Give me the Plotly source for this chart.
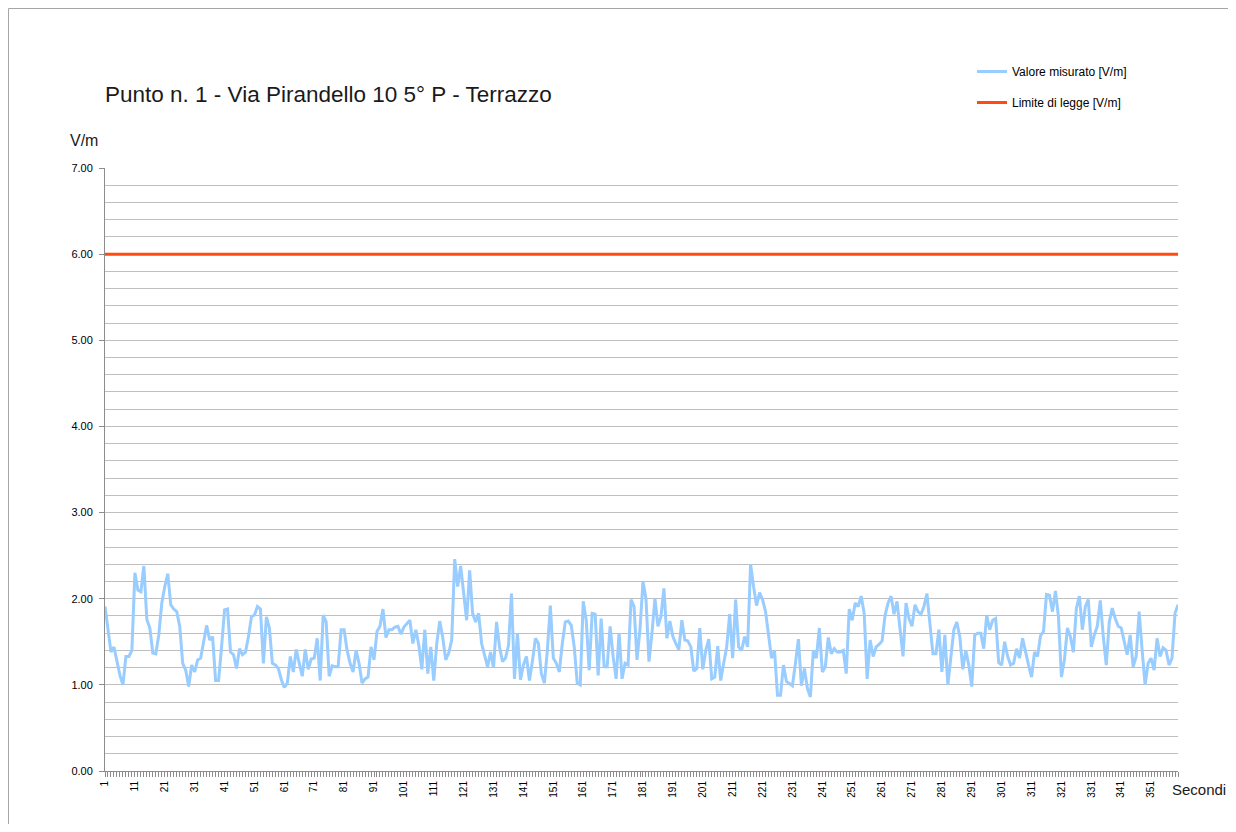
import plotly.graph_objects as go

seconds = list(range(1, 361))

measured = [
    1.91, 1.62, 1.38, 1.44, 1.29, 1.11, 1.00, 1.33, 1.33, 1.40,
    2.30, 2.10, 2.08, 2.38, 1.76, 1.66, 1.37, 1.36, 1.58, 1.95,
    2.14, 2.29, 1.93, 1.88, 1.85, 1.68, 1.25, 1.17, 0.98, 1.23,
    1.15, 1.29, 1.31, 1.50, 1.69, 1.52, 1.56, 1.05, 1.05, 1.44,
    1.87, 1.88, 1.38, 1.35, 1.19, 1.42, 1.35, 1.38, 1.56, 1.79,
    1.81, 1.91, 1.88, 1.25, 1.79, 1.66, 1.25, 1.23, 1.19, 1.06,
    0.97, 1.02, 1.33, 1.15, 1.41, 1.25, 1.10, 1.41, 1.18, 1.30,
    1.31, 1.54, 1.05, 1.81, 1.73, 1.10, 1.22, 1.21, 1.21, 1.64,
    1.64, 1.40, 1.25, 1.15, 1.40, 1.25, 1.02, 1.07, 1.09, 1.44,
    1.29, 1.62, 1.68, 1.88, 1.55, 1.64, 1.64, 1.67, 1.68, 1.59,
    1.67, 1.71, 1.75, 1.48, 1.64, 1.46, 1.18, 1.64, 1.13, 1.44,
    1.05, 1.48, 1.74, 1.55, 1.29, 1.37, 1.52, 2.46, 2.14, 2.38,
    2.06, 1.75, 2.33, 1.83, 1.73, 1.83, 1.48, 1.33, 1.21, 1.38,
    1.20, 1.73, 1.44, 1.27, 1.31, 1.46, 2.06, 1.07, 1.60, 1.06,
    1.23, 1.33, 1.05, 1.27, 1.54, 1.48, 1.13, 1.02, 1.40, 1.92,
    1.31, 1.25, 1.15, 1.48, 1.73, 1.74, 1.69, 1.44, 1.02, 1.00,
    1.97, 1.75, 1.17, 1.83, 1.82, 1.11, 1.77, 1.21, 1.21, 1.68,
    1.33, 1.07, 1.60, 1.07, 1.25, 1.23, 1.99, 1.91, 1.29, 1.65,
    2.20, 2.00, 1.27, 1.60, 2.00, 1.68, 1.79, 2.12, 1.54, 1.74,
    1.56, 1.48, 1.41, 1.75, 1.52, 1.51, 1.44, 1.16, 1.19, 1.66,
    1.18, 1.40, 1.53, 1.07, 1.09, 1.45, 1.05, 1.25, 1.44, 1.82,
    1.31, 1.99, 1.44, 1.40, 1.56, 1.44, 2.40, 2.14, 1.92, 2.07,
    1.99, 1.85, 1.56, 1.31, 1.40, 0.88, 0.88, 1.23, 1.04, 1.01,
    0.99, 1.25, 1.53, 0.99, 1.19, 0.96, 0.86, 1.40, 1.31, 1.66,
    1.15, 1.21, 1.55, 1.36, 1.42, 1.38, 1.38, 1.40, 1.13, 1.88,
    1.75, 1.95, 1.91, 2.03, 1.83, 1.07, 1.52, 1.33, 1.44, 1.47,
    1.51, 1.81, 1.95, 2.03, 1.82, 1.97, 1.64, 1.33, 1.95, 1.77,
    1.68, 1.93, 1.85, 1.82, 1.91, 2.06, 1.71, 1.36, 1.36, 1.64,
    1.15, 1.58, 1.00, 1.29, 1.64, 1.73, 1.56, 1.18, 1.40, 1.23,
    0.98, 1.58, 1.60, 1.60, 1.42, 1.81, 1.64, 1.75, 1.77, 1.26,
    1.23, 1.50, 1.33, 1.23, 1.25, 1.42, 1.31, 1.54, 1.37, 1.23,
    1.09, 1.38, 1.33, 1.57, 1.62, 2.05, 2.04, 1.85, 2.09, 1.79,
    1.09, 1.29, 1.66, 1.56, 1.38, 1.89, 2.03, 1.64, 1.91, 1.99,
    1.44, 1.58, 1.68, 1.98, 1.56, 1.23, 1.73, 1.89, 1.77, 1.68,
    1.66, 1.52, 1.35, 1.58, 1.21, 1.33, 1.85, 1.40, 1.00, 1.25,
    1.31, 1.17, 1.54, 1.33, 1.43, 1.40, 1.23, 1.31, 1.83, 1.93,
]

limit_value = 6.0
limit = [limit_value] * len(seconds)

x_tick_vals = list(range(1, 361, 10))
x_tick_text = [str(v) for v in x_tick_vals]
y_tick_vals = [0, 1, 2, 3, 4, 5, 6, 7]
y_tick_text = [f"{v:.2f}" for v in y_tick_vals]

title_text = "Punto n. 1 - Via Pirandello 10 5° P - Terrazzo"
series_names = ["Valore misurato [V/m]", "Limite di legge [V/m]"]

FONT = "Liberation Sans, Arial, sans-serif"
GRID = "#bfbfbf"
AXIS = "#8c8c8c"

# page has an 8px body margin; figure coords = screen coords - 8
OFF = 8
W, H = 1220, 816
L, T = 105 - OFF, 168 - OFF
R = W - (1178 - OFF)
B = H - (771 - OFF)
pw, ph = W - L - R, H - T - B


def px_x(sx):
    return (sx - OFF - L) / pw


def px_y(sy):
    return (H - B - (sy - OFF)) / ph


fig = go.Figure()
fig.add_trace(go.Scatter(
    x=seconds, y=measured, mode="lines", name=series_names[0],
    line=dict(color="#99CCFF", width=3), legendgroup="a",
))
fig.add_trace(go.Scatter(
    x=seconds, y=limit, mode="lines", name=series_names[1],
    line=dict(color="#FF4A12", width=3), legendgroup="b",
))

fig.update_layout(
    width=W, height=H,
    margin=dict(l=L, r=R, t=T, b=B, autoexpand=False),
    paper_bgcolor="white", plot_bgcolor="white",
    font=dict(family=FONT, size=11, color="#000000"),
    title=dict(text=title_text, x=(105 - OFF) / W, xanchor="left", xref="container",
               y=1 - (94 - OFF) / H, yanchor="middle", yref="container",
               font=dict(family=FONT, size=22.5, color="#1a1a1a")),
    showlegend=True,
    legend=dict(x=px_x(972), y=px_y(57), xanchor="left", yanchor="top",
                font=dict(family=FONT, size=12), tracegroupgap=12,
                bgcolor="rgba(0,0,0,0)", itemwidth=30),
    xaxis=dict(
        range=[1, 360], tickmode="array", tickvals=x_tick_vals, ticktext=x_tick_text,
        tickangle=-90, showgrid=False, zeroline=False,
        showline=True, linecolor=AXIS, linewidth=1,
        ticks="outside", ticklen=5, tickcolor=AXIS,
        minor=dict(tick0=1, dtick=1, ticks="outside", ticklen=5, tickcolor=AXIS, showgrid=False),
        tickfont=dict(size=10),
    ),
    yaxis=dict(
        range=[0, 7], tickmode="array", tickvals=y_tick_vals, ticktext=y_tick_text,
        showgrid=True, gridcolor=GRID, gridwidth=1, zeroline=False,
        showline=True, linecolor=AXIS, linewidth=1,
        ticks="outside", ticklen=5, tickcolor=AXIS,
        ticklabelstandoff=4,
        minor=dict(dtick=0.2, showgrid=True, gridcolor=GRID, gridwidth=1, ticks=""),
        tickfont=dict(size=11),
    ),
)

fig.add_annotation(text="V/m", x=px_x(68), y=px_y(140), xref="paper", yref="paper",
                   xanchor="left", yanchor="middle", showarrow=False,
                   font=dict(family=FONT, size=16, color="#1a1a1a"))
fig.add_annotation(text="Secondi", x=px_x(1228), y=px_y(789), xref="paper", yref="paper",
                   xanchor="right", yanchor="middle", showarrow=False,
                   font=dict(family=FONT, size=15, color="#1a1a1a"))

# chart-area frame (left and top edges visible)
fig.add_shape(type="rect", xref="paper", yref="paper",
              x0=px_x(8.5), x1=px_x(1260), y0=px_y(860), y1=px_y(8.5),
              line=dict(color="#a6a6a6", width=1), layer="below")

fig.write_html("out.html")
